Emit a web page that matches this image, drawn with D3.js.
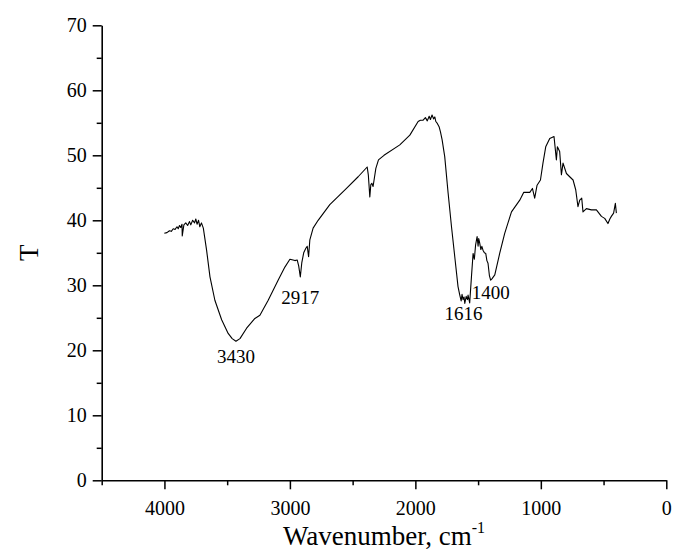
<!DOCTYPE html>
<html>
<head>
<meta charset="utf-8">
<script src="https://cdn.jsdelivr.net/npm/d3@7"></script>
<style>
  body { margin: 0; background: #fff; }
  svg text { font-family: "Liberation Serif", "Times New Roman", serif; fill: #000; }
</style>
</head>
<body>
<svg id="chart" width="675" height="551"></svg>
<script>
// IR spectrum
const wavenumber = [4001, 3980, 3960, 3945, 3930, 3915, 3900, 3890, 3880, 3870, 3860, 3858, 3845, 3830, 3815, 3800, 3790, 3775, 3760, 3750, 3740, 3728, 3718, 3705, 3690,
  3664, 3637, 3598, 3544, 3492, 3460, 3430, 3398, 3345, 3279, 3239, 3173, 3093, 3040, 3000, 2975, 2960, 2942, 2930, 2917, 2905, 2890, 2873, 2862, 2851, 2841,
  2815, 2775, 2682, 2549, 2456, 2384, 2375, 2363, 2355, 2347, 2337, 2315, 2294, 2250, 2124, 2044, 1978, 1960, 1938, 1920, 1905, 1890, 1880, 1867, 1855, 1845,
  1837, 1825, 1811, 1800, 1787, 1766, 1739, 1712, 1686, 1660, 1646, 1635, 1628, 1620, 1612, 1606, 1595, 1585, 1580, 1567, 1553, 1545, 1540, 1530, 1520, 1508,
  1500, 1495, 1487, 1478, 1470, 1461, 1450, 1439, 1430, 1421, 1410, 1400, 1390, 1367, 1328, 1288, 1234, 1168, 1136, 1088, 1067, 1049, 1030, 1003, 983, 961,
  929, 895, 876, 868, 850, 836, 823, 796, 770, 743, 722, 704, 690, 674, 664, 637, 597, 557, 517, 491, 465, 450, 438, 420, 406, 398];
const transmittance = [38.0, 38.1, 38.4, 38.3, 38.7, 38.6, 39.0, 38.7, 39.2, 38.9, 39.4, 37.6, 39.3, 39.6, 39.2, 39.8, 39.3, 40.0, 39.6, 40.2, 39.4, 40.0, 39.0, 39.6, 38.8,
  35.4, 31.3, 27.7, 24.7, 22.6, 21.8, 21.4, 21.8, 23.4, 24.9, 25.4, 27.7, 30.8, 32.8, 34.0, 33.9, 33.8, 33.9, 33.0, 31.3, 33.5, 35.0, 35.7, 36.0, 34.4, 37.0,
  38.8, 40.0, 42.4, 44.9, 46.7, 48.2, 47.0, 43.6, 45.5, 45.7, 45.2, 48.0, 49.3, 50.0, 51.6, 53.1, 55.2, 55.4, 55.4, 55.8, 55.3, 56.0, 55.5, 56.2, 55.6, 55.9,
  55.2, 54.9, 54.4, 53.6, 52.4, 49.8, 44.2, 39.0, 34.4, 29.8, 28.5, 27.6, 28.6, 27.8, 28.2, 27.2, 28.3, 27.8, 28.5, 27.3, 31.3, 33.5, 34.9, 34.0, 36.2, 37.5,
  36.0, 37.2, 36.5, 35.5, 36.0, 35.4, 35.0, 34.9, 33.8, 33.4, 31.5, 30.8, 31.0, 31.6, 34.9, 38.0, 41.3, 43.1, 44.3, 44.3, 44.9, 43.4, 45.4, 46.2, 48.8, 51.3,
  52.6, 52.9, 49.3, 51.3, 50.6, 47.0, 48.8, 47.2, 46.7, 46.2, 44.7, 42.1, 43.1, 43.4, 41.3, 41.8, 41.6, 41.6, 40.6, 40.3, 39.5, 40.2, 40.6, 41.1, 42.6, 41.1];

const xTicks = [4000, 3000, 2000, 1000, 0];
const xMinorTicks = [4500, 3500, 2500, 1500, 500];
const yTicks = [0, 10, 20, 30, 40, 50, 60, 70];
const yMinorTicks = [5, 15, 25, 35, 45, 55, 65];

const peakLabels = ["3430", "2917", "1616", "1400"];
const peakX = [3430, 2917, 1616, 1400];
const peakT = [18.1, 27.2, 24.6, 27.9];

const svg = d3.select("#chart");
const plotL = 101.7, plotR = 666.3, plotT = 25.3, plotB = 480.3;

const x = d3.scaleLinear().domain([4500, 0]).range([plotL, plotR]);
const y = d3.scaleLinear().domain([0, 70]).range([plotB, plotT]);

// minor ticks first, major axes on top
svg.append("g")
  .attr("transform", "translate(0," + plotB + ")")
  .call(d3.axisBottom(x).tickValues(xMinorTicks).tickSize(5).tickFormat(""))
  .call(g => g.select(".domain").remove());

svg.append("g")
  .attr("transform", "translate(" + plotL + ",0)")
  .call(d3.axisLeft(y).tickValues(yMinorTicks).tickSize(5).tickFormat(""))
  .call(g => g.select(".domain").remove());

const xAxis = svg.append("g")
  .attr("transform", "translate(0," + plotB + ")")
  .call(d3.axisBottom(x).tickValues(xTicks).tickSize(9).tickSizeOuter(0).tickPadding(12).tickFormat(d3.format("d")));
xAxis.selectAll("text").attr("font-size", 20).attr("font-family", "Liberation Serif");

const yAxis = svg.append("g")
  .attr("transform", "translate(" + plotL + ",0)")
  .call(d3.axisLeft(y).tickValues(yTicks).tickSize(9).tickSizeOuter(0).tickPadding(6));
yAxis.selectAll("text").attr("font-size", 20).attr("font-family", "Liberation Serif");

svg.selectAll(".domain").attr("stroke-width", 1.6);
svg.selectAll(".tick line").attr("stroke-width", 1.5);

// spectrum
const pts = wavenumber.map((w, i) => [w, transmittance[i]]);
svg.append("path")
  .datum(pts)
  .attr("fill", "none")
  .attr("stroke", "#000")
  .attr("stroke-width", 1.1)
  .attr("stroke-linejoin", "round")
  .attr("d", d3.line().x(d => x(d[0])).y(d => y(d[1])));

// peak labels
svg.selectAll(".peak")
  .data(peakLabels)
  .join("text")
  .attr("class", "peak")
  .attr("x", (d, i) => x(peakX[i]))
  .attr("y", (d, i) => y(peakT[i]))
  .attr("text-anchor", "middle")
  .attr("font-size", 19)
  .text(d => d);

// axis titles
const xt = svg.append("text")
  .attr("x", (plotL + plotR) / 2)
  .attr("y", 545)
  .attr("text-anchor", "middle")
  .attr("font-size", 27);
xt.append("tspan").text("Wavenumber, cm");
xt.append("tspan").attr("dy", -12).attr("font-size", 16).text("-1");

svg.append("text")
  .attr("transform", "translate(38," + ((plotT + plotB) / 2) + ") rotate(-90)")
  .attr("text-anchor", "middle")
  .attr("font-size", 27)
  .text("T");
</script>
</body>
</html>
